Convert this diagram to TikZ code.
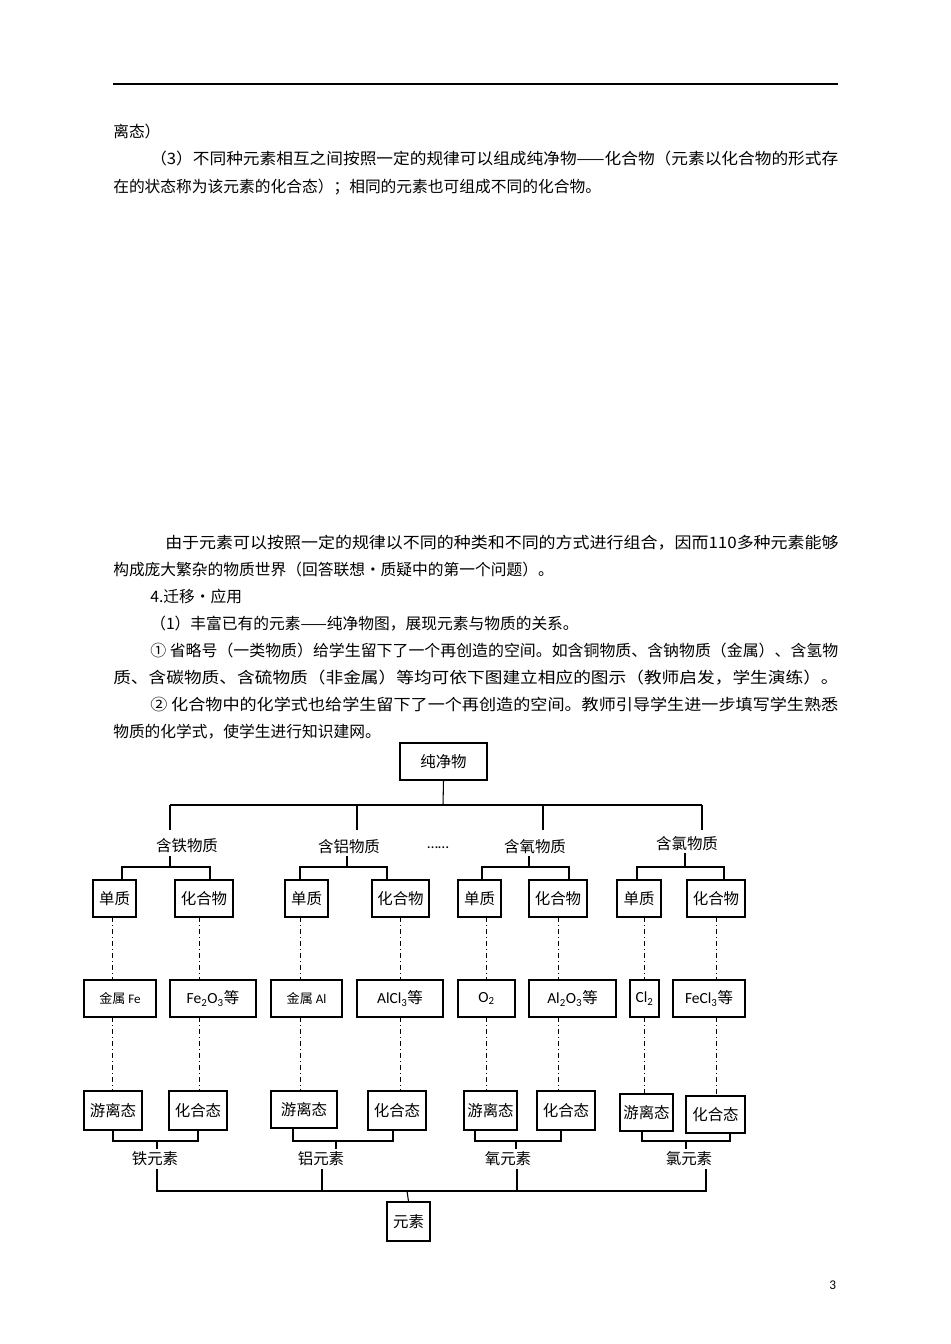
\documentclass[tikz,border=0pt]{standalone}
\usepackage{fontspec}
\usepackage{graphicx}
\setmainfont{Noto Sans CJK SC}
\newfontfamily\lat{Carlito}
\newcommand\jline[2]{\resizebox{#1}{\height}{#2}}
\begin{document}
\begin{tikzpicture}[x=0.75pt,y=-0.75pt,
  bx/.style={draw,line width=0.8pt,inner sep=0pt,font=\fontsize{11.6pt}{12pt}\selectfont},
  tx/.style={anchor=base west,inner sep=0pt,font=\fontsize{11.8pt}{13pt}\selectfont},
  lb/.style={inner sep=1pt,font=\fontsize{11.6pt}{12pt}\selectfont},
  ln/.style={line width=0.8pt},
  dd/.style={line width=0.7pt,dash pattern=on 4pt off 2pt on 1pt off 2pt}]
\path[use as bounding box] (0,0) rectangle (950,1344);
\fill[white] (0,0) rectangle (950,1344);
\coordinate (r1) at (113,84); \coordinate (r2) at (838,84);
\draw[line width=0.9pt] (r1) -- (r2);
\node[tx] (t1) at (113,138) {离态）};
\node[tx] (t2) at (150,165) {\jline{516pt}{（3）不同种元素相互之间按照一定的规律可以组成纯净物——化合物（元素以化合物的形式存}};
\node[tx] (t3) at (113,193) {在的状态称为该元素的化合态）；相同的元素也可组成不同的化合物。};
\node[tx] (t4) at (165,548) {\jline{505pt}{由于元素可以按照一定的规律以不同的种类和不同的方式进行组合，因而110多种元素能够}};
\node[tx] (t5) at (113,575) {构成庞大繁杂的物质世界（回答联想·质疑中的第一个问题）。};
\node[tx] (t6) at (150,602) {4.迁移·应用};
\node[tx] (t7) at (150,629) {（1）丰富已有的元素——纯净物图，展现元素与物质的关系。};
\node[tx] (t8) at (150,656) {\jline{516pt}{① 省略号（一类物质）给学生留下了一个再创造的空间。如含铜物质、含钠物质（金属）、含氢物}};
\node[tx] (t9) at (113,683) {\jline{544pt}{质、含碳物质、含硫物质（非金属）等均可依下图建立相应的图示（教师启发，学生演练）。}};
\node[tx] (t10) at (150,710) {\jline{516pt}{② 化合物中的化学式也给学生留下了一个再创造的空间。教师引导学生进一步填写学生熟悉}};
\node[tx] (t11) at (113,737) {物质的化学式，使学生进行知识建网。};
\node[tx,font=\lat\fontsize{10pt}{12pt}\selectfont] (pg) at (829,1289) {3};
\newcommand\bx[6]{\pgfmathsetmacro\cxx{(#2+#4)/2}\pgfmathsetmacro\cyy{(#3+#5)/2}\pgfmathsetmacro\ww{(#4-#2)*0.75}\pgfmathsetmacro\hh{(#5-#3)*0.75}\node[bx,minimum width=\ww pt,minimum height=\hh pt] (#1) at (\cxx,\cyy) {#6};}
% top
\bx{top}{400}{743}{487}{780}{纯净物}
\coordinate (h0) at (443,805);
\coordinate (hL) at (170,805); \coordinate (hR) at (702,805);
\draw[ln] (top.south) -- (h0);
\draw[ln] (hL) -- (hR);
\coordinate (v1) at (170,830); \coordinate (v2) at (357,830); \coordinate (v3) at (543,830); \coordinate (v4) at (702,830);
\draw[ln] (hL) -- (v1); \draw[ln] (357,805) -- (v2); \draw[ln] (543,805) -- (v3); \draw[ln] (hR) -- (v4);
\node[lb] (g1) at (187,846) {含铁物质};
\node[lb] (g2) at (349,847) {含铝物质};
\node[lb] (g0) at (438,848) {\lat ……};
\node[lb] (g3) at (535,847) {含氧物质};
\node[lb] (g4) at (687,844) {含氯物质};
% row1
\bx{a1}{93}{880}{136}{917}{单质}
\bx{b1}{175}{880}{233}{917}{化合物}
\bx{c1}{285}{880}{328}{917}{单质}
\bx{d1}{372}{880}{429}{917}{化合物}
\bx{e1}{458}{880}{501}{917}{单质}
\bx{f1}{529}{880}{587}{917}{化合物}
\bx{g1b}{617}{880}{661}{917}{单质}
\bx{h1}{687}{880}{745}{917}{化合物}
\draw[ln] (170,856) -- (170,867) (122,880) |- (210,867) -- (210,880);
\draw[ln] (347,856) -- (347,867) (300,880) |- (387,867) -- (387,880);
\draw[ln] (529,856) -- (529,867) (482,880) |- (569,867) -- (569,880);
\draw[ln] (685,853) -- (685,867) (637,880) |- (724,867) -- (724,880);
% row2
\bx{a2}{84}{980}{156}{1017}{\fontsize{9.8pt}{11pt}\selectfont 金属 {\lat Fe}}
\bx{b2}{170}{980}{256}{1017}{{\lat Fe\textsubscript{2}O\textsubscript{3}}等}
\bx{c2}{271}{980}{342}{1017}{\fontsize{9.8pt}{11pt}\selectfont 金属 {\lat Al}}
\bx{d2}{357}{980}{443}{1017}{{\lat AlCl\textsubscript{3}}等}
\bx{e2}{458}{980}{515}{1017}{{\lat O\textsubscript{2}}}
\bx{f2}{529}{980}{616}{1017}{{\lat Al\textsubscript{2}O\textsubscript{3}}等}
\bx{g2}{630}{980}{659}{1017}{{\lat Cl\textsubscript{2}}}
\bx{h2}{673}{980}{745}{1017}{{\lat FeCl\textsubscript{3}}等}
% row3
\bx{a3}{84}{1091}{142}{1130}{游离态}
\bx{b3}{169}{1091}{227}{1130}{化合态}
\bx{c3}{271}{1091}{337}{1128}{游离态}
\bx{d3}{368}{1091}{426}{1130}{化合态}
\bx{e3}{464}{1091}{517}{1130}{游离态}
\bx{f3}{537}{1091}{595}{1130}{化合态}
\bx{g3}{620}{1094}{673}{1131}{游离态}
\bx{h3}{686}{1096}{745}{1133}{化合态}
% dash-dot
\draw[dd] (112,917) -- (112,980) (112,1017) -- (112,1091);
\draw[dd] (199,917) -- (199,980) (199,1017) -- (199,1091);
\draw[dd] (300,917) -- (300,980) (300,1017) -- (300,1091);
\draw[dd] (400,917) -- (400,980) (400,1017) -- (400,1091);
\draw[dd] (486,917) -- (486,980) (486,1017) -- (486,1091);
\draw[dd] (558,917) -- (558,980) (558,1017) -- (558,1091);
\draw[dd] (644,917) -- (644,980) (644,1017) -- (644,1094);
\draw[dd] (716,917) -- (716,980) (716,1017) -- (716,1096);
% bottom connectors
\draw[ln] (113,1130) |- (198,1141) -- (198,1130) (157,1141) -- (157,1149);
\draw[ln] (293,1128) |- (393,1141) -- (393,1130) (336,1141) -- (336,1149);
\draw[ln] (475,1130) |- (561,1141) -- (561,1130) (516,1141) -- (516,1149);
\draw[ln] (642,1131) |- (730,1141) -- (730,1133) (686,1141) -- (686,1149);
\node[lb] (e1l) at (155,1159) {铁元素};
\node[lb] (e2l) at (321,1159) {铝元素};
\node[lb] (e3l) at (508,1159) {氧元素};
\node[lb] (e4l) at (689,1159) {氯元素};
\coordinate (bL) at (157,1191); \coordinate (bR) at (706,1191);
\draw[ln] (157,1169) -- (bL) -- (bR) -- (706,1169);
\draw[ln] (322,1169) -- (322,1191) (517,1169) -- (517,1191);
\bx{el}{387}{1202}{430}{1241}{元素}
\draw[ln] (407,1191) -- (el.north);
\end{tikzpicture}
\end{document}
